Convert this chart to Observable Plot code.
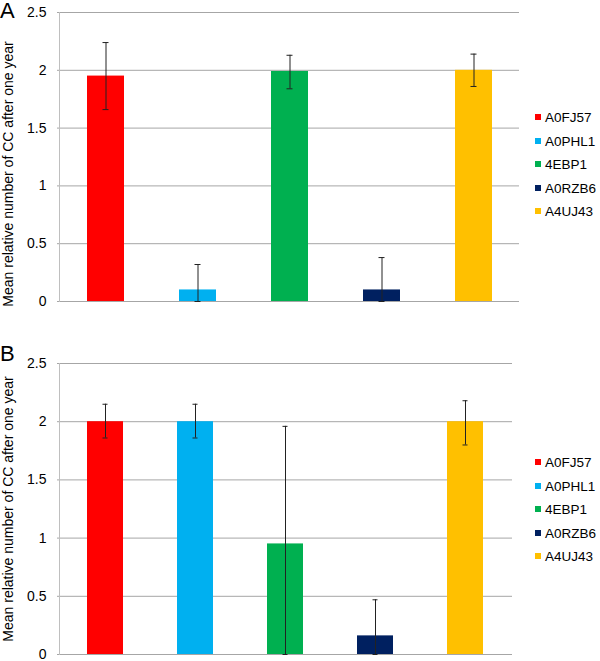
<!DOCTYPE html>
<html>
<head>
<meta charset="utf-8">
<script src="https://cdn.jsdelivr.net/npm/d3@7"></script>
<script src="https://cdn.jsdelivr.net/npm/@observablehq/plot@0.6"></script>
<style>
  body { margin: 0; background: #fff; font-family: "Liberation Sans", Arial, sans-serif; }
  .panel { position: relative; width: 600px; }
  .panel svg { display: block; }
  .letter { position: absolute; left: 0; font-size: 22px; line-height: 22px; color: #000; }
  .legend { position: absolute; left: 535px; font-size: 13.5px; color: #000; }
  .legend .row { position: absolute; left: 0; white-space: nowrap; height: 16px; line-height: 16px; }
  .legend .sw { display: inline-block; width: 6px; height: 6px; margin-right: 4px; vertical-align: middle; position: relative; top: -1px; }
</style>
</head>
<body>
<div id="root"></div>
<script>
const genes = ["A0FJ57", "A0PHL1", "4EBP1", "A0RZB6", "A4UJ43"];
const colors = ["#FF0000", "#00B0F0", "#00B050", "#002060", "#FFC000"];
const meanA = [1.95, 0.10, 1.99, 0.10, 2.00];
const lowA  = [1.66, 0.00, 1.84, 0.00, 1.86];
const highA = [2.24, 0.32, 2.13, 0.38, 2.14];
const meanB = [2.00, 2.00, 0.95, 0.16, 2.00];
const lowB  = [1.86, 1.86, 0.00, 0.00, 1.80];
const highB = [2.15, 2.15, 1.96, 0.47, 2.18];
const yTicks = [0, 0.5, 1, 1.5, 2, 2.5];
const yTickLabels = ["0", "0.5", "1", "1.5", "2", "2.5"];
const yLabel = "Mean relative number of CC after one year";

function panel({letter, mean, low, high, height, marginTop, marginBottom, marginRight, labelDy, letterTop, legendTop}) {
  const data = genes.map((g, i) => ({gene: g, mean: mean[i], low: low[i], high: high[i]}));
  const div = document.createElement("div");
  div.className = "panel";
  div.style.height = height + "px";
  const chart = Plot.plot({
    width: 600,
    height,
    marginTop,
    marginBottom,
    marginLeft: 59,
    marginRight,
    style: {fontFamily: '"Liberation Sans", Arial, sans-serif', fontSize: "14px", background: "#fff", overflow: "visible"},
    x: {domain: genes, paddingInner: 0.6, paddingOuter: 0.3, axis: null},
    y: {domain: [0, 2.5], axis: null},
    color: {domain: genes, range: colors},
    marks: [
      Plot.gridY(yTicks, {stroke: "#a6a6a6", strokeOpacity: 1}),
      Plot.barY(data, {x: "gene", y: "mean", fill: "gene"}),
      Plot.frame({anchor: "left", stroke: "#bfbfbf", strokeOpacity: 1}),
      Plot.ruleX(data, {x: "gene", y1: "low", y2: "high", stroke: "#222", strokeWidth: 1}),
      Plot.tickY(data, {x: "gene", y: "high", stroke: "#222", insetLeft: 15.5, insetRight: 15.5}),
      Plot.tickY(data, {x: "gene", y: "low", stroke: "#222", insetLeft: 15.5, insetRight: 15.5}),
      Plot.axisY(yTicks, {
        tickSize: 2, tickPadding: 11, stroke: "#a6a6a6", strokeOpacity: 1, fill: "#000",
        tickFormat: (d) => yTickLabels[yTicks.indexOf(d)], label: null, fontSize: 14
      }),
      Plot.text([yLabel], {text: (d) => d, frameAnchor: "left", textAnchor: "middle", lineAnchor: "middle", rotate: -90, dx: -51, dy: labelDy, fontSize: 14, fill: "#000"})
    ]
  });
  div.appendChild(chart);
  const l = document.createElement("div");
  l.className = "letter";
  l.style.top = letterTop + "px";
  l.textContent = letter;
  div.appendChild(l);
  const leg = document.createElement("div");
  leg.className = "legend";
  leg.style.top = legendTop + "px";
  genes.forEach((g, i) => {
    const r = document.createElement("div");
    r.className = "row";
    r.style.top = (i * 23.5 - 8) + "px";
    const sw = document.createElement("span");
    sw.className = "sw";
    sw.style.background = colors[i];
    r.appendChild(sw);
    r.appendChild(document.createTextNode(g));
    leg.appendChild(r);
  });
  div.appendChild(leg);
  return div;
}

const root = document.getElementById("root");
root.appendChild(panel({letter: "A", mean: meanA, low: lowA, high: highA, height: 330, marginTop: 12, marginBottom: 29, marginRight: 81, labelDy: 17, letterTop: 0, legendTop: 118}));
root.appendChild(panel({letter: "B", mean: meanB, low: lowB, high: highB, height: 331, marginTop: 33, marginBottom: 7, marginRight: 88, labelDy: 0, letterTop: 13, legendTop: 133}));
</script>
</body>
</html>
